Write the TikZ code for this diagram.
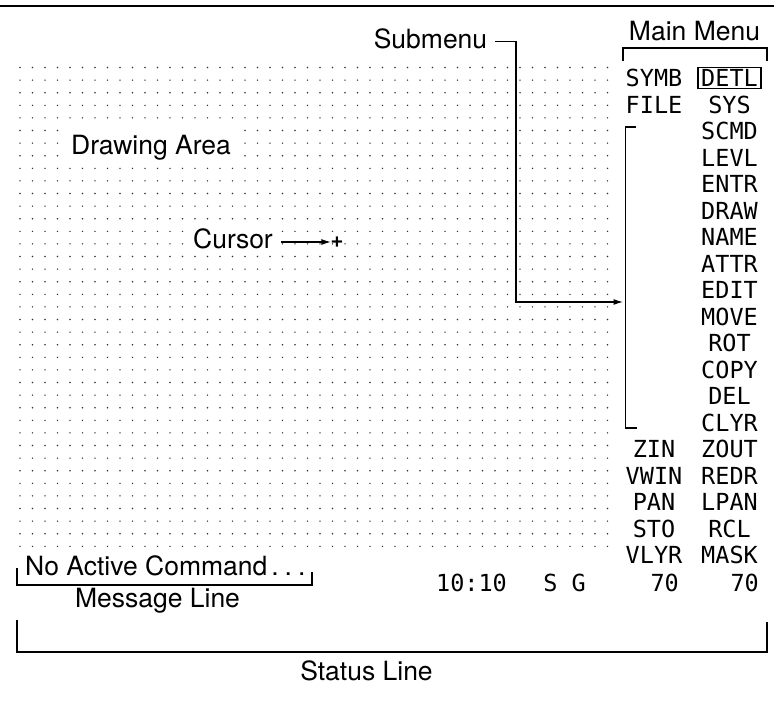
\documentclass[tikz,border=0pt]{standalone}
\usepackage{fontspec}
\setmainfont{TeX Gyre Heros}
\newfontfamily\menufont{DejaVu Sans Mono}
\usetikzlibrary{arrows.meta}

\begin{document}
\begin{tikzpicture}[x=1pt, y=-1pt,
  caption/.style={font=\fontsize{26.5}{29}\selectfont, inner sep=0pt, anchor=base},
  menu/.style={font=\menufont\fontsize{23.5}{26}\selectfont, inner sep=0pt,
               text height=17pt, text depth=0pt},
  rule/.style={line width=1.6pt},
  pointer/.style={rule, -{Latex[length=10pt,width=6pt]}},
  griddot/.style={fill=black!80},
]
\useasboundingbox (0,0) rectangle (774,702);

% screen top edge
\draw[line width=2.5pt] (0,6) -- (774,6);

% dot grid of the drawing area
\foreach \i in {0,...,47}
  \foreach \j in {0,...,38}
    \fill[griddot] (20+12.5*\i, 67.5+12.6*\j) circle (0.8pt);

% labels inside the drawing area (white ground hides the grid)
\node[caption, fill=white, inner xsep=5pt, text height=29pt, text depth=7pt]
  (area) at (151,154) {Drawing Area};
\node[caption, fill=white, inner xsep=3pt, inner ysep=1pt]
  (cur) at (233,248) {Cursor};
\node[font=\bfseries\fontsize{22}{22}\selectfont, inner sep=0pt]
  (cp) at (337,242) {+};
\draw[pointer] ([xshift=5pt]cur.east |- cp.west) -- ([xshift=1pt]cp.west);

% main menu heading and bracket
\node[caption] (mm) at (694.5,40) {Main Menu};
\draw[rule] (623,61) -- (623,48) -- (767,48) -- (767,61);

% submenu bracket and its pointer
\coordinate (sbm) at (625.5,302);
\coordinate (sbk) at (516,302);
\draw[rule] (636,127) -- (625.5,127) -- (625.5,428) -- (637,428);
\node[caption] (sm) at (430.5,48) {Submenu};
\draw[pointer] ([xshift=8pt,yshift=-3pt]sm.east) -| (sbk) -- ([xshift=-2pt]sbm);

% main menu entries
\node[menu, draw, line width=1.5pt, inner xsep=3pt, inner ysep=2pt]
  (r0) at (729.5,78) {DETL};
\foreach \t [count=\i from 1] in {SYS,SCMD,LEVL,ENTR,DRAW,NAME,ATTR,EDIT,MOVE,
    ROT,COPY,DEL,CLYR,ZOUT,REDR,LPAN,RCL,MASK}
  \node[menu] (r\i) at (729.5,78+26.5*\i) {\t};
\foreach \t/\i in {SYMB/0,FILE/1,ZIN/14,VWIN/15,PAN/16,STO/17,VLYR/18}
  \node[menu] (l\i) at (654,78+26.5*\i) {\t};

% status values
\node[menu, anchor=east] (l19) at (679,583) {70};
\node[menu, anchor=east] (r19) at (759,583) {70};
\node[menu] (clock) at (471.5,583) {10:10};
\node[menu] (sg) at (564.5,583) {S G};

% message line
\node[caption, anchor=base west] (nac) at (25,575)
  {No Active Command\kern4pt.\kern6pt.\kern6pt.};
\draw[rule] (17,568) -- (17,585) -- (312,585) -- (312,572);
\node[caption] (ml) at (157.5,607) {Message Line};

% status line
\draw[rule] (17,620) -- (17,652) -- (767,652) -- (767,622);
\node[caption] (sl) at (366.5,680) {Status Line};
\end{tikzpicture}
\end{document}
